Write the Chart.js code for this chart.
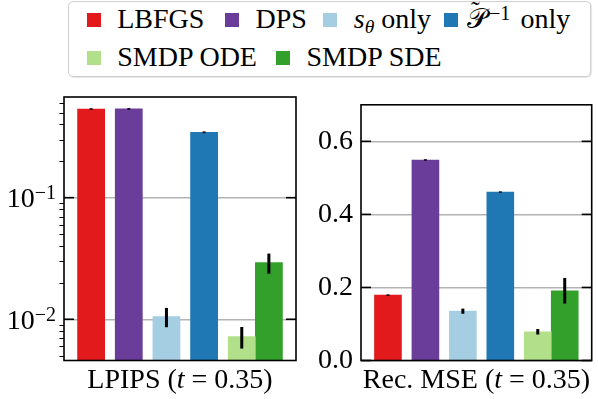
<!DOCTYPE html>
<html><head><meta charset="utf-8">
<script src="https://cdn.jsdelivr.net/npm/chart.js@4.4.0/dist/chart.umd.min.js"></script>
<style>
html,body{margin:0;padding:0;background:#fff;}
#wrap{position:relative;width:598px;height:399px;overflow:hidden;font-family:'Liberation Serif','Times New Roman',serif;color:#000;}
canvas{position:absolute;}
#c1{left:0;top:80px;}
#c2{left:300px;top:80px;}
#legendBox{position:absolute;left:68px;top:1px;width:523px;height:76px;box-sizing:border-box;border:1.3px solid #cfcfcf;border-radius:5px;background:#fff;box-shadow:1px 1px 1px rgba(0,0,0,0.10);}
.sw{position:absolute;width:14px;height:14px;}
.lt{position:absolute;font-size:28px;line-height:28px;white-space:nowrap;}
.xt{position:absolute;text-align:center;font-size:28px;line-height:28px;white-space:nowrap;z-index:2;}
sub{font-size:0.7em;vertical-align:-0.25em;line-height:0;}
sup{font-size:0.72em;vertical-align:0.42em;line-height:0;margin-left:2px;margin-right:3px;}
#tilde{position:absolute;font-size:26px;line-height:26px;}
</style></head>
<body>
<div id="wrap">
  <canvas id="c1" width="300" height="319"></canvas>
  <canvas id="c2" width="298" height="319"></canvas>
  <div id="legendBox"></div>
  <div id="legend"></div>
  <div class="xt" style="left:64px;width:232px;top:364.5px;">LPIPS (<i>t</i> = 0.35)</div>
  <div class="xt" style="left:361px;width:231px;top:364.5px;">Rec. MSE (<i>t</i> = 0.35)</div>
</div>
<script>
// ---- data ----
const categories = ['LBFGS', 'DPS', 'sθ only', 'P̃⁻¹ only', 'SMDP ODE', 'SMDP SDE'];
const legendMarkup = ['LBFGS', 'DPS', '<i>s</i><sub><i>θ</i></sub> only',
  '<span id="scriptP">𝒫</span><sup>−1</sup> only', 'SMDP ODE', 'SMDP SDE'];
const groupIndex = [0, 1, 2, 3, 4, 4];   // bar group on the x axis
const slotInGroup = [0, 0, 0, 0, 0, 1];  // side-by-side slot inside a group
const colors = ['#e31a1c', '#6a3d9a', '#a6cee3', '#1f78b4', '#b2df8a', '#33a02c'];

const lpipsMean = [0.536, 0.537, 0.0105, 0.345, 0.00719, 0.0292];
const lpipsErr  = [0.008, 0.008, 0.0019, 0.006, 0.00145, 0.0055];
const mseMean   = [0.179, 0.549, 0.135, 0.461, 0.0786, 0.191];
const mseErr    = [0.002, 0.002, 0.007, 0.002, 0.0075, 0.035];

const lpipsTicks = [0.01, 0.1];
const lpipsTickBase = ['10', '10'];
const lpipsTickExp = ['−2', '−1'];
const lpipsMinorTicks = [0.005, 0.006, 0.007, 0.008, 0.009, 0.02, 0.03, 0.04, 0.05, 0.06, 0.07, 0.08, 0.09, 0.2, 0.3, 0.4, 0.5, 0.6];
const lpipsRange = [0.00458, 0.673];
const mseTicks = [0, 0.2, 0.4, 0.6];
const mseRange = [0, 0.7];

// ---- style constants ----
const BAR_W = 0.72;
const X_RANGE = [-0.72, 4 + BAR_W + 0.72];
const FONT = "'Liberation Serif', 'Times New Roman', serif";
const LEGEND_POS = [[0, 86.7, 30.5], [0, 225, 30.5], [0, 323.3, 30.5], [0, 444, 23], [1, 86.7, 30.5], [1, 276, 30.5]];
const ROW_TOP = [5, 43];

// ---- legend (HTML) ----
const legend = document.getElementById('legend');
categories.forEach((c, i) => {
  const [r, x, gap] = LEGEND_POS[i];
  const sw = document.createElement('div');
  sw.className = 'sw';
  sw.style.background = colors[i];
  sw.style.left = x + 'px';
  sw.style.top = (ROW_TOP[r] + 7.5) + 'px';
  legend.appendChild(sw);
  const t = document.createElement('div');
  t.className = 'lt';
  t.style.left = (x + gap) + 'px';
  t.style.top = ROW_TOP[r] + 'px';
  t.innerHTML = legendMarkup[i];
  legend.appendChild(t);
});
// tilde accent over the script P
const pr = document.getElementById('scriptP').getBoundingClientRect();
const tl = document.createElement('div');
tl.id = 'tilde';
tl.textContent = '˜';
legend.appendChild(tl);
const tw = tl.getBoundingClientRect().width;
tl.style.left = (pr.left + pr.width * 0.42 - tw / 2) + 'px';
tl.style.top = (pr.top - 5) + 'px';

// ---- plugins ----
const errorBars = {
  id: 'errorBars',
  afterDatasetsDraw(chart) {
    const {ctx, scales: {y}} = chart;
    ctx.save();
    ctx.strokeStyle = '#000';
    ctx.lineWidth = 3;
    chart.data.datasets.forEach((ds, i) => {
      const meta = chart.getDatasetMeta(i);
      meta.data.forEach((bar, j) => {
        const v = ds.data[j].y, e = ds.errors[j];
        ctx.beginPath();
        ctx.moveTo(bar.x, y.getPixelForValue(v - e));
        ctx.lineTo(bar.x, y.getPixelForValue(v + e));
        ctx.stroke();
      });
    });
    ctx.restore();
  }
};

const frame = {
  id: 'frame',
  afterDraw(chart, args, opts) {
    const {ctx, chartArea: a, scales: {y}} = chart;
    ctx.save();
    ctx.strokeStyle = '#000';
    ctx.fillStyle = '#000';
    if (opts.minor) {
      ctx.lineWidth = 1;
      opts.minor.forEach(v => {
        const py = Math.round(y.getPixelForValue(v)) + 0.5;
        ctx.beginPath(); ctx.moveTo(a.left - 4.5, py); ctx.lineTo(a.left, py); ctx.stroke();
      });
    }
    if (opts.expLabels) {
      opts.major.forEach((v, k) => {
        const py = y.getPixelForValue(v);
        const right = a.left - 8;
        ctx.font = '20px ' + FONT;
        const ew = ctx.measureText(opts.expLabels[k]).width;
        ctx.textAlign = 'left';
        ctx.textBaseline = 'alphabetic';
        ctx.fillText(opts.expLabels[k], right - ew, py + 1.5);
        ctx.font = '28px ' + FONT;
        ctx.textAlign = 'right';
        ctx.fillText(opts.baseLabels[k], right - ew, py + 9.5);
      });
    }
    ctx.lineWidth = 1.6;
    opts.major.forEach(v => {
      const py = y.getPixelForValue(v);
      ctx.beginPath(); ctx.moveTo(a.left, py); ctx.lineTo(a.left + 10, py); ctx.stroke();
      ctx.beginPath(); ctx.moveTo(a.right - 10, py); ctx.lineTo(a.right, py); ctx.stroke();
    });
    ctx.strokeRect(a.left, a.top, a.right - a.left, a.bottom - a.top);
    ctx.restore();
  }
};

function makeDatasets(means, errs) {
  return categories.map((c, i) => ({
    label: c,
    data: [{x: groupIndex[i] + slotInGroup[i] * BAR_W, y: means[i]}],
    errors: [errs[i]],
    backgroundColor: colors[i],
    borderWidth: 0,
    grouped: false,
    categoryPercentage: 1,
    barPercentage: 1
  }));
}

function makeChart(id, means, errs, yOpts, axisWidth, padding, frameOpts) {
  return new Chart(document.getElementById(id), {
    type: 'bar',
    data: {datasets: makeDatasets(means, errs)},
    options: {
      responsive: false,
      animation: false,
      devicePixelRatio: 1,
      layout: {padding},
      plugins: {legend: {display: false}, tooltip: {enabled: false}, frame: frameOpts},
      scales: {
        x: {
          type: 'linear', min: X_RANGE[0], max: X_RANGE[1], display: false,
          afterBuildTicks: s => { s.ticks = []; }
        },
        y: Object.assign({
          z: 1,
          border: {display: false},
          grid: {color: '#b3b3b3', lineWidth: 1.5, drawTicks: false},
          afterFit: s => { s.width = axisWidth; }
        }, yOpts)
      }
    },
    plugins: [errorBars, frame]
  });
}

Chart.defaults.font.family = FONT;
Chart.defaults.font.size = 28;
Chart.defaults.color = '#000';

makeChart('c1', lpipsMean, lpipsErr, {
  type: 'logarithmic', min: lpipsRange[0], max: lpipsRange[1],
  afterBuildTicks: s => { s.ticks = lpipsTicks.map(v => ({value: v, major: true})); },
  ticks: {display: false}
}, 64, {top: 17, right: 4, bottom: 38.5, left: 0},
  {major: lpipsTicks, minor: lpipsMinorTicks, baseLabels: lpipsTickBase, expLabels: lpipsTickExp});

makeChart('c2', mseMean, mseErr, {
  type: 'linear', min: mseRange[0], max: mseRange[1],
  afterBuildTicks: s => { s.ticks = mseTicks.map(v => ({value: v})); },
  ticks: {padding: 8, autoSkip: false, callback: (v) => Number(v).toFixed(1)}
}, 61, {top: 17, right: 6.3, bottom: 38.5, left: 0}, {major: mseTicks});
</script>
</body></html>
